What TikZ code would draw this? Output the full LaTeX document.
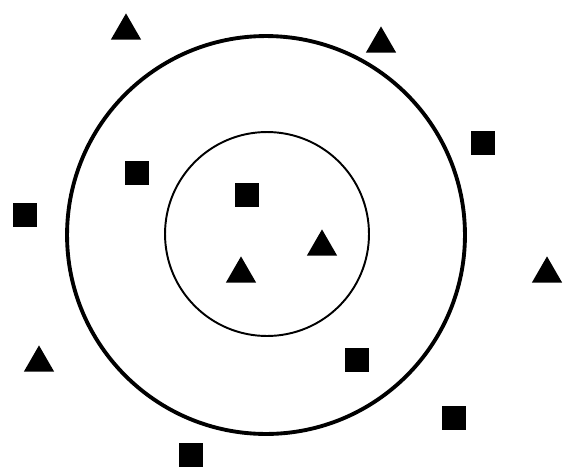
\documentclass[tikz,border=0pt]{standalone}
\usepackage{tikz}
\usetikzlibrary{
	shapes.geometric,
	positioning
}

\begin{document}
\begin{tikzpicture}[
            x=0.02cm, y=-0.02cm,
            ring/.style={
                draw,
                circle,
                inner sep=0pt
            },
            outerring/.style={ring,line width=2.2pt,minimum size=7.96cm},
            innerring/.style={ring,line width=1.1pt,minimum size=4.08cm},
            sq/.style={
                fill=black,
                rectangle,
                inner sep=0pt,
                minimum size=0.48cm
            },
            tri/.style={
                fill=black,
                regular polygon,
                regular polygon sides=3,
                inner sep=0pt,
                minimum size=0.70cm,
                anchor=south
            }
        ]
            \useasboundingbox (0,0) rectangle (563,470);

            \node[outerring] (outer) at (266,235) {};
            \node[innerring] (inner) at (267,234) {};

            % squares
            \node[sq] (sqA) at (483,143) {};
            \node[sq] (sqB) at (137,173) {};
            \node[sq] (sqC) at (247,195) {};
            \node[sq] (sqD) at (25,215) {};
            \node[sq] (sqE) at (357,360) {};
            \node[sq] (sqF) at (454,418) {};
            \node[sq] (sqG) at (191,455) {};

            % triangles
            \node[tri] (triA) at (126,40) {};
            \node[tri] (triB) at (381,53) {};
            \node[tri] (triC) at (322,256) {};
            \node[tri] (triD) at (241,283) {};
            \node[tri] (triE) at (547,283) {};
            \node[tri] (triF) at (39,372) {};
        \end{tikzpicture}
\end{document}
